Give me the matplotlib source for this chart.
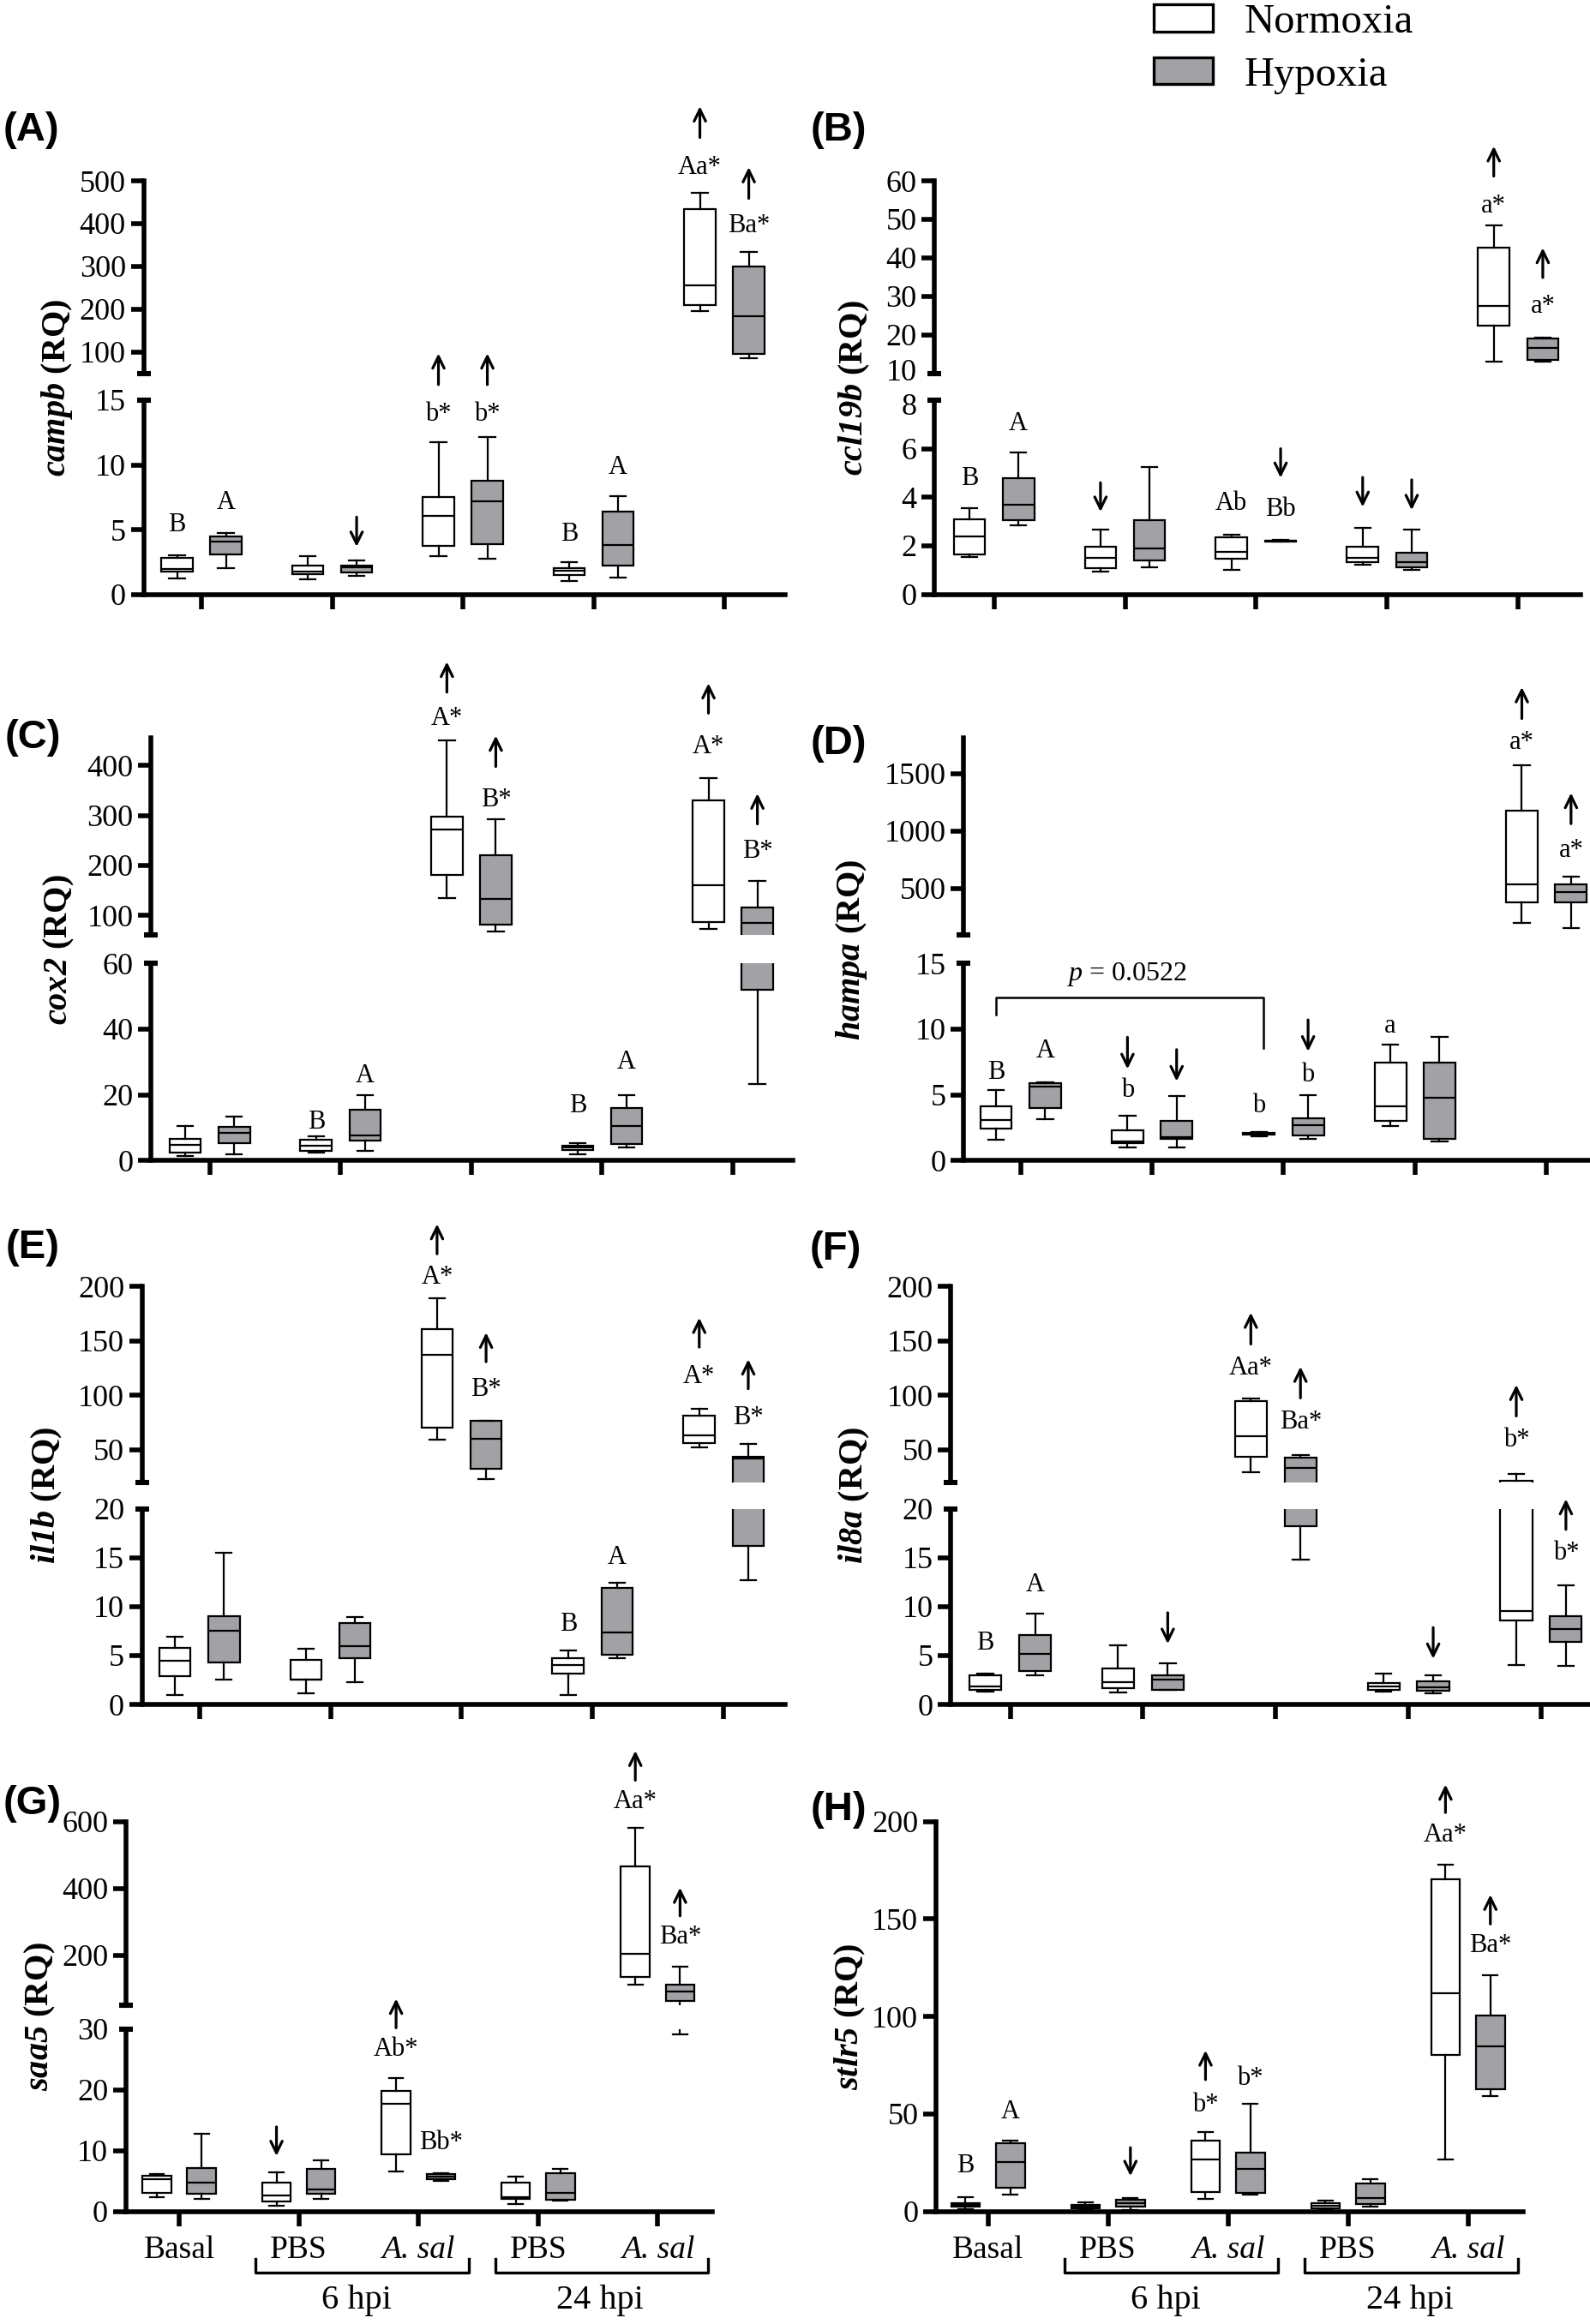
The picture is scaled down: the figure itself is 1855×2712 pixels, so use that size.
import matplotlib
matplotlib.use('Agg')
import matplotlib.pyplot as plt
from matplotlib.patches import Patch
from matplotlib.transforms import blended_transform_factory, ScaledTranslation

plt.rcParams['font.family'] = ['Liberation Serif', 'DejaVu Serif']
plt.rcParams['mathtext.fontset'] = 'custom'
plt.rcParams['mathtext.rm'] = 'Liberation Serif'
plt.rcParams['mathtext.it'] = 'Liberation Serif:italic'
plt.rcParams['mathtext.bf'] = 'Liberation Serif:bold'
plt.rcParams['mathtext.bfit'] = 'Liberation Serif:italic:bold'

# ---------------- data (min, q1, median, q3, max) ----------------
groups = ['Basal', 'PBS', 'A. sal', 'PBS', 'A. sal']
series = ['Normoxia', 'Hypoxia']

campb_norm = [(1.22, 1.74, 1.96, 2.82, 3.0), (1.16, 1.53, 1.74, 2.23, 2.97), (2.97, 3.73, 6.06, 7.5, 11.75),
              (1.0, 1.5, 1.84, 2.0, 2.5), (195, 209, 256, 433, 472)]
campb_hyp = [(2.05, 3.06, 4.05, 4.45, 4.75), (1.44, 1.68, 2.08, 2.23, 2.6), (2.75, 3.89, 7.16, 8.78, 12.18),
             (1.29, 2.2, 3.83, 6.37, 7.56), (86, 96, 183, 300, 333)]

ccl19b_norm = [(1.54, 1.66, 2.39, 3.10, 3.56), (0.94, 1.08, 1.5, 1.97, 2.67), (1.0, 1.45, 1.75, 2.34, 2.47),
               (1.21, 1.34, 1.49, 1.97, 2.75), (13.0, 22.5, 27.6, 42.6, 48.4)]
ccl19b_hyp = [(2.83, 3.04, 3.68, 4.8, 5.85), (1.13, 1.41, 1.89, 3.04, 5.25), (2.16, 2.18, 2.2, 2.22, 2.24),
              (1.02, 1.13, 1.34, 1.73, 2.67), (13.0, 13.5, 16.6, 19.1, 19.3)]

cox2_norm = [(1.4, 2.5, 4.8, 6.6, 10.5), (2.4, 3.0, 4.5, 6.4, 7.3), (134, 181, 272, 298, 451),
             (1.8, 3.2, 4.0, 4.6, 5.4), (72, 87, 161, 331, 375)]
cox2_hyp = [(1.8, 5.4, 8.4, 10.2, 13.4), (2.9, 6.2, 7.7, 15.5, 19.8), (67, 81, 133, 221, 293),
            (4.0, 5.1, 10.5, 15.9, 19.8), (23.4, 52, 85, 115, 169)]

hampa_norm = [(1.61, 2.41, 3.08, 4.1, 5.36), (0.99, 1.34, 1.42, 2.33, 3.4), (1.82, 1.96, 2.06, 2.09, 2.14),
              (2.63, 3.0, 4.15, 7.45, 8.84), (194, 375, 537, 1179, 1570)]
hampa_hyp = [(3.16, 4.02, 5.63, 5.9, 5.95), (0.99, 1.66, 1.8, 3.0, 4.9), (1.66, 1.88, 2.68, 3.21, 4.96),
             (1.47, 1.66, 4.77, 7.45, 9.38), (154, 375, 466, 537, 598)]

il1b_norm = [(0.96, 2.86, 4.46, 5.79, 6.89), (1.14, 2.5, 2.55, 4.57, 5.71), (58.9, 69.8, 136.8, 161, 188.8),
             (0.96, 3.14, 4.04, 4.71, 5.54), (52.2, 55.7, 62.8, 81.3, 87.7)]
il1b_hyp = [(2.57, 4.29, 7.57, 9.04, 15.5), (2.25, 4.75, 6.0, 8.29, 8.93), (22.9, 32.4, 60.2, 76.2, 76.5),
            (4.75, 5.07, 7.32, 11.9, 12.43), (12.68, 16.18, 42.0, 43.6, 54.8)]

il8a_norm = [(1.35, 1.52, 1.88, 3.0, 3.19), (1.24, 1.7, 2.3, 3.72, 6.09), (29.2, 43.6, 62.2, 94.2, 96.8),
             (1.31, 1.52, 1.88, 2.19, 3.12), (4.07, 8.57, 9.56, 21.5, 27.9)]
il8a_hyp = [(2.94, 3.43, 5.13, 7.08, 9.27), (1.52, 1.52, 2.58, 3.0, 4.25), (14.8, 18.23, 32.7, 42.3, 44.6),
            (1.13, 1.42, 1.77, 2.37, 3.0), (3.96, 6.44, 7.72, 9.03, 12.2)]

saa5_norm = [(2.37, 3.0, 5.25, 5.89, 6.2), (0.96, 1.6, 2.56, 4.8, 6.4), (6.5, 9.4, 17.7, 19.8, 21.9),
             (1.22, 2.05, 2.37, 4.73, 5.69), (111.8, 135.3, 203.5, 464.7, 580)]
saa5_hyp = [(2.05, 2.88, 4.73, 7.17, 12.8), (2.05, 2.88, 3.65, 6.97, 8.45), (5.05, 5.25, 5.69, 6.08, 6.33),
            (1.73, 1.86, 3.0, 6.33, 6.97), (29.1, 62.4, 91.8, 111.8, 167)]

stlr5_norm = [(1.0, 2.4, 3.4, 4.4, 7.4), (0.6, 1.4, 2.4, 3.4, 4.6), (6.6, 10.0, 26.7, 36.5, 40.7),
              (0.6, 1.6, 3.0, 4.4, 5.6), (26.7, 80.2, 111.7, 170.3, 177.9)]
stlr5_hyp = [(8.6, 12.0, 25.1, 35.1, 36.1), (0.8, 2.4, 4.4, 6.0, 7.0), (8.4, 9.4, 21.7, 30.1, 55.2),
             (2.4, 3.6, 7.0, 14.4, 16.6), (59.2, 62.6, 84.7, 100.7, 121)]

# significance annotations: ('t', group, side, axis, y, text) / ('a', group, side, axis, tail, tip)
ann_A = [('t', 0, 0, 'l', 5.36, 'B'), ('t', 0, 1, 'l', 7.1, 'A'), ('a', 1, 1, 'l', 5.97, 3.67),
         ('a', 2, 0, 'u', 24, 97), ('t', 2, 0, 'l', 13.9, 'b*'), ('a', 2, 1, 'u', 24, 97), ('t', 2, 1, 'l', 13.9, 'b*'),
         ('t', 3, 0, 'l', 4.65, 'B'), ('t', 3, 1, 'l', 9.8, 'A'),
         ('a', 4, 0, 'u', 601, 674), ('t', 4, 0, 'u', 532, 'Aa*'), ('a', 4, 1, 'u', 459, 532), ('t', 4, 1, 'u', 395, 'Ba*')]
ann_B = [('t', 0, 0, 'l', 4.77, 'B'), ('t', 0, 1, 'l', 7.03, 'A'), ('a', 1, 0, 'l', 4.6, 3.4),
         ('t', 2, 0, 'l', 3.75, 'Ab'), ('a', 2, 1, 'l', 6.0, 4.8), ('t', 2, 1, 'l', 3.5, 'Bb'),
         ('a', 3, 0, 'l', 4.82, 3.6), ('a', 3, 1, 'l', 4.72, 3.47),
         ('a', 4, 0, 'u', 61.2, 69.0), ('t', 4, 0, 'u', 53.5, 'a*'), ('a', 4, 1, 'u', 34.9, 42.6), ('t', 4, 1, 'u', 27.4, 'a*')]
ann_C = [('t', 1, 0, 'l', 11.6, 'B'), ('t', 1, 1, 'l', 25.7, 'A'),
         ('a', 2, 0, 'u', 547, 608), ('t', 2, 0, 'u', 494.6, 'A*'), ('a', 2, 1, 'u', 398, 460), ('t', 2, 1, 'u', 331, 'B*'),
         ('t', 3, 0, 'l', 16.6, 'B'), ('t', 3, 1, 'l', 30, 'A'),
         ('a', 4, 0, 'u', 505, 565), ('t', 4, 0, 'u', 438, 'A*'), ('a', 4, 1, 'u', 283, 344), ('t', 4, 1, 'u', 228, 'B*')]
ann_D = [('t', 0, 0, 'l', 6.7, 'B'), ('t', 0, 1, 'l', 8.3, 'A'),
         ('a', 1, 0, 'l', 9.38, 6.96), ('t', 1, 0, 'l', 5.36, 'b'), ('a', 1, 1, 'l', 8.44, 6.03),
         ('t', 2, 0, 'l', 4.15, 'b'), ('a', 2, 1, 'l', 10.7, 8.3), ('t', 2, 1, 'l', 6.5, 'b'),
         ('t', 3, 0, 'l', 10.2, 'a'),
         ('a', 4, 0, 'u', 1980, 2255), ('t', 4, 0, 'u', 1769, 'a*'), ('a', 4, 1, 'u', 1063, 1332), ('t', 4, 1, 'u', 827, 'a*')]
ann_E = [('a', 2, 0, 'u', 230, 257.5), ('t', 2, 0, 'u', 208.6, 'A*'), ('a', 2, 1, 'u', 130.8, 157.6), ('t', 2, 1, 'u', 104.9, 'B*'),
         ('t', 3, 0, 'l', 8.2, 'B'), ('t', 3, 1, 'l', 15, 'A'),
         ('a', 4, 0, 'u', 144.2, 171.3), ('t', 4, 0, 'u', 117, 'A*'), ('a', 4, 1, 'u', 105.9, 133), ('t', 4, 1, 'u', 79.4, 'B*')]
ann_F = [('t', 0, 0, 'l', 6.3, 'B'), ('t', 0, 1, 'l', 12.2, 'A'), ('a', 1, 1, 'l', 9.38, 6.19),
         ('a', 2, 0, 'u', 147, 176), ('t', 2, 0, 'u', 124.7, 'Aa*'), ('a', 2, 1, 'u', 97.4, 126.3), ('t', 2, 1, 'u', 75.6, 'Ba*'),
         ('a', 3, 1, 'l', 7.86, 4.67),
         ('a', 4, 0, 'u', 80.8, 109.6), ('t', 4, 0, 'u', 59, 'b*'), ('a', 4, 1, 'l', 17.9, 21.0), ('t', 4, 1, 'l', 15.5, 'b*')]
ann_G = [('a', 1, 0, 'l', 13.9, 9.1),
         ('a', 2, 0, 'l', 30.2, 35.0), ('t', 2, 0, 'l', 26.7, 'Ab*'), ('t', 2, 1, 'l', 11.3, 'Bb*'),
         ('a', 4, 0, 'u', 723.5, 812), ('t', 4, 0, 'u', 659, 'Aa*'), ('a', 4, 1, 'u', 317.6, 402.4), ('t', 4, 1, 'u', 253, 'Ba*')]
ann_H = [('t', 0, 0, 'l', 23.5, 'B'), ('t', 0, 1, 'l', 51.2, 'A'), ('a', 1, 1, 'l', 32.7, 18.1),
         ('a', 2, 0, 'l', 67.6, 82.6), ('t', 2, 0, 'l', 54.6, 'b*'), ('t', 2, 1, 'l', 68.2, 'b*'),
         ('a', 4, 0, 'l', 204.6, 219), ('t', 4, 0, 'l', 193, 'Aa*'), ('a', 4, 1, 'l', 147.4, 162.5), ('t', 4, 1, 'l', 136.4, 'Ba*')]

# ---------------- layout (reference frame 1074 x 1568) ----------------
W, H = 1074.0, 1568.0
fig = plt.figure(figsize=(18.56, 27.12), dpi=100)
GRAY = '#A2A2A6'
SPW = 4.0
LW = 1.6
OFF = 0.187
BW = 0.24
TICKFS = 26


def fx(x):
    return x / W


def fy(y):
    return 1 - y / H


def add_ax(xl, xr, yt, yb):
    return fig.add_axes([fx(xl), fy(yb), fx(xr) - fx(xl), fy(yt) - fy(yb)])


def draw_boxes(ax, norm, hyp):
    for stats, off, color in ((norm, -OFF, 'white'), (hyp, OFF, GRAY)):
        st = [dict(whislo=s[0], q1=s[1], med=s[2], q3=s[3], whishi=s[4], fliers=[]) for s in stats]
        ax.bxp(st, positions=[i + off for i in range(len(st))], widths=BW, patch_artist=True,
               showfliers=False, manage_ticks=False,
               boxprops=dict(facecolor=color, edgecolor='black', linewidth=LW),
               medianprops=dict(color='black', linewidth=LW),
               whiskerprops=dict(color='black', linewidth=LW),
               capprops=dict(color='black', linewidth=LW))


def style_axis(ax, xlim, ylim, ticks, labels, bottom):
    ax.set_xlim(*xlim)
    ax.set_ylim(*ylim)
    ax.patch.set_visible(False)
    ax.spines['top'].set_visible(False)
    ax.spines['right'].set_visible(False)
    ax.spines['left'].set_linewidth(SPW)
    ax.set_yticks(ticks, labels=labels)
    ax.tick_params(axis='y', width=SPW, length=11, labelsize=TICKFS, pad=4)
    if bottom:
        ax.spines['bottom'].set_linewidth(SPW)
        ax.set_xticks(range(5))
        ax.tick_params(axis='x', width=SPW, length=12, labelbottom=False)
    else:
        ax.spines['bottom'].set_visible(False)
        ax.set_xticks([])


def break_end(ax, at_top):
    # short bar centred on the axis marking the end of a broken segment
    idx = -1 if at_top else 0
    ax.yaxis.get_major_ticks()[idx].tick1line.set_visible(False)
    ax.plot([0], [1 if at_top else 0], transform=ax.transAxes, marker='_', ms=12, mew=SPW + 0.4,
            color='black', clip_on=False, zorder=5)


def nudge_label(ax, idx, dy_pt):
    lab = ax.get_yticklabels()[idx]
    lab.set_transform(lab.get_transform() + ScaledTranslation(0, dy_pt / 72, fig.dpi_scale_trans))


def annotate(axes, anns):
    for a in anns:
        kind, g, side, which, y1, y2 = a
        ax = axes[which]
        x = g + (-OFF if side == 0 else OFF)
        if kind == 't':
            ax.text(x, y1, y2, ha='center', va='center', fontsize=22, clip_on=False)
        else:
            ax.annotate('', xy=(x, y2), xytext=(x, y1), annotation_clip=False,
                        arrowprops=dict(arrowstyle='->,head_length=0.45,head_width=0.22',
                                        lw=2.3, color='black', shrinkA=0, shrinkB=0,
                                        mutation_scale=22))


panels = [
    ('(A)', 'campb', campb_norm, campb_hyp, ann_A, (97, 530, 136, 88.25), (122, 252, 270, 401),
     ((50, 500), [50, 100, 200, 300, 400, 500], ['', '100', '200', '300', '400', '500']),
     ((0, 15), [0, 5, 10, 15]), 38.5, (21, 88)),
    ('(B)', 'ccl19b', ccl19b_norm, ccl19b_hyp, ann_B, (631, 1067, 671, 88.5), (122, 252, 270, 401),
     ((10, 60), [10, 20, 30, 40, 50, 60], ['10', '20', '30', '40', '50', '60']),
     ((0, 8), [0, 2, 4, 6, 8]), 577, (566, 88)),
    ('(C)', 'cox2', cox2_norm, cox2_hyp, ann_C, (102, 535, 141.6, 88.3), (498, 631, 650, 783),
     ((60, 455), [60, 100, 200, 300, 400], ['', '100', '200', '300', '400']),
     ((0, 60), [0, 20, 40, 60]), 40, (22, 498)),
    ('(D)', 'hampa', hampa_norm, hampa_hyp, ann_D, (650.6, 1073, 689, 88.75), (498, 631, 650, 783),
     ((90, 1810), [90, 500, 1000, 1500], ['', '500', '1000', '1500']),
     ((0, 15), [0, 5, 10, 15]), 575, (566, 502)),
    ('(E)', 'il1b', il1b_norm, il1b_hyp, ann_E, (96, 530, 134.6, 88.5), (868, 1000, 1018, 1150),
     ((20, 200), [20, 50, 100, 150, 200], ['', '50', '100', '150', '200']),
     ((0, 20), [0, 5, 10, 15, 20]), 32, (22, 842)),
    ('(F)', 'il8a', il8a_norm, il8a_hyp, ann_F, (642, 1073, 682, 89.6), (868, 1000, 1018, 1150),
     ((20, 200), [20, 50, 100, 150, 200], ['', '50', '100', '150', '200']),
     ((0, 20), [0, 5, 10, 15, 20]), 577, (564, 843)),
    ('(G)', 'saa5', saa5_norm, saa5_hyp, ann_G, (85, 481, 121, 80.75), (1229, 1353, 1369, 1492),
     ((50, 600), [50, 200, 400, 600], ['', '200', '400', '600']),
     ((0, 30), [0, 10, 20, 30]), 27, (22, 1217)),
    ('(H)', 'stlr5', stlr5_norm, stlr5_hyp, ann_H, (632, 1028, 667, 81), (1229, None, None, 1492),
     None, ((0, 200), [0, 50, 100, 150, 200]), 574, (566, 1221)),
]

for lab, gene, norm, hyp, anns, xs, ys, up, lo, ylx, lpos in panels:
    xl, xr, t0, dt = xs
    xlim = ((xl - t0) / dt, (xr - t0) / dt)
    ut, ub, lt, lb = ys
    axes = {}
    if up is not None:
        axu = add_ax(xl, xr, ut, ub)
        draw_boxes(axu, norm, hyp)
        style_axis(axu, xlim, up[0], up[1], up[2], bottom=False)
        axl = add_ax(xl, xr, lt, lb)
        axes['u'] = axu
    else:
        axl = add_ax(xl, xr, ut, lb)
        axes['u'] = axl
    draw_boxes(axl, norm, hyp)
    style_axis(axl, xlim, lo[0], lo[1], [str(t) for t in lo[1]], bottom=True)
    axes['l'] = axl
    if up is not None:
        break_end(axu, at_top=False)
        break_end(axl, at_top=True)
        if up[2][0]:
            # labelled lower end of the upper segment sits close to the lower segment's top label
            nudge_label(axu, 0, 3)
            nudge_label(axl, -1, -3)
    annotate(axes, anns)

    fig.text(fx(ylx), fy((ut + lb) / 2), r'$\mathbfit{' + gene + '}$ (RQ)', rotation=90,
             ha='center', va='center', fontsize=29, fontweight='bold')
    fig.text(fx(lpos[0]), fy(lpos[1]), lab, ha='center', va='center', fontsize=34,
             fontweight='bold', family='Liberation Sans')

    if gene == 'hampa':
        xa, xb = 0 - OFF, 1.846
        axl.plot([xa, xa, xb, xb], [11.1, 12.38, 12.38, 8.57], color='black', lw=1.8, clip_on=False)
        axl.text(0.81, 14.2, r'$p$ = 0.0522', ha='center', va='center', fontsize=23, clip_on=False)

    if gene in ('saa5', 'stlr5'):
        axl.tick_params(axis='x', labelbottom=True, labelsize=27, pad=8)
        axl.set_xticks(range(5), labels=groups)
        for t in axl.get_xticklabels():
            if t.get_text().startswith('A.'):
                t.set_fontstyle('italic')
        tr = blended_transform_factory(axl.transData, fig.transFigure)
        for (a, b, xc, name) in ((1 - 0.36, 2 + 0.42, 1.48, '6 hpi'), (3 - 0.36, 4 + 0.42, 3.52, '24 hpi')):
            axl.plot([a, a, b, b], [fy(1524), fy(1533.5), fy(1533.5), fy(1524)], transform=tr,
                     color='black', lw=2.4, clip_on=False)
            axl.text(xc, fy(1552), name, transform=tr, ha='center', va='center', fontsize=29)

handles = [Patch(facecolor='white', edgecolor='black', linewidth=2.4, label=series[0]),
           Patch(facecolor=GRAY, edgecolor='black', linewidth=2.4, label=series[1])]
fig.legend(handles=handles, loc='upper left', bbox_to_anchor=(fx(779), fy(2.5)), frameon=False,
           fontsize=35, handlelength=1.42, handleheight=0.62, handletextpad=0.75,
           labelspacing=0.36, borderpad=0, borderaxespad=0)

fig.savefig('out.png', dpi=100)
